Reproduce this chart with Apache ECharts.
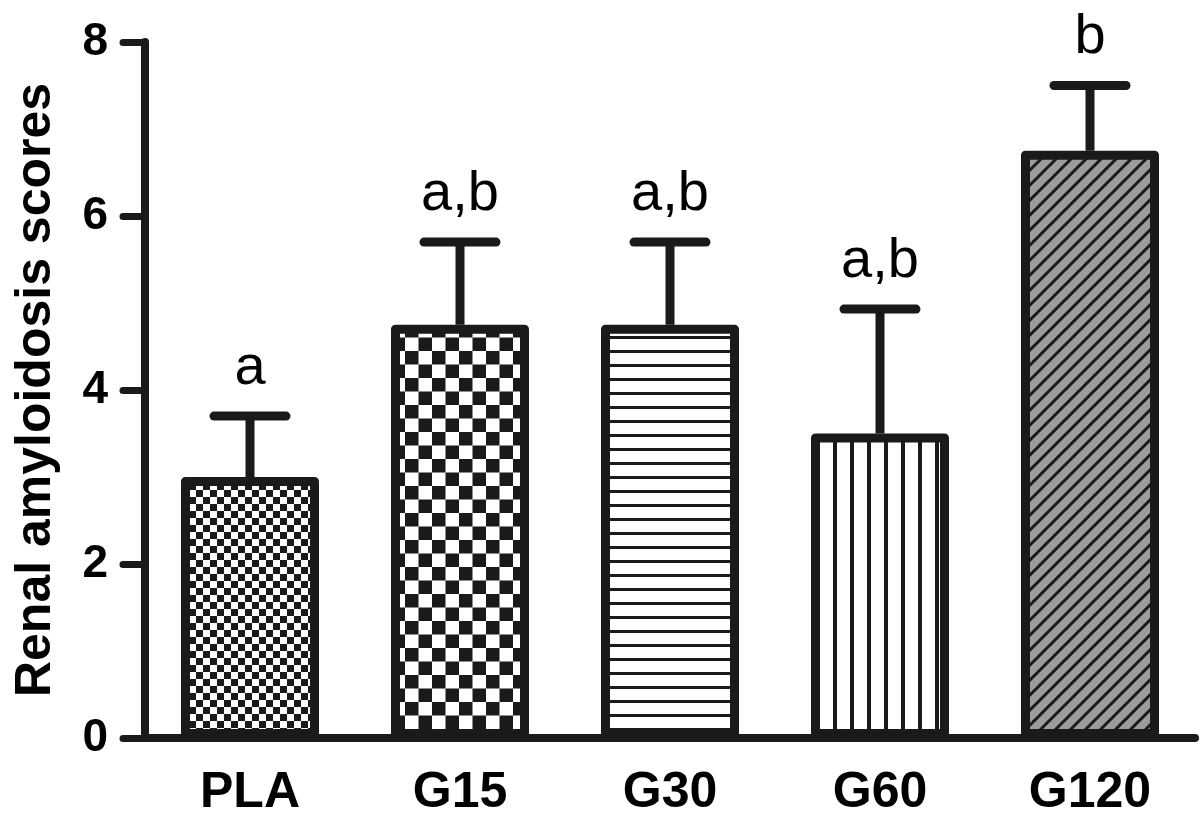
<!DOCTYPE html>
<html>
<head>
<meta charset="utf-8">
<script src="https://cdn.jsdelivr.net/npm/echarts@6/dist/echarts.min.js"></script>
<style>
html,body{margin:0;padding:0;background:#fff;}
#chart{width:1200px;height:818px;}
</style>
</head>
<body>
<div id="chart"></div>
<script>
// ---- data ----
var categories = ['PLA', 'G15', 'G30', 'G60', 'G120'];
var means = [3.0, 4.75, 4.75, 3.5, 6.75];
var sems = [0.7, 0.95, 0.95, 1.43, 0.75];
var letters = ['a', 'a,b', 'a,b', 'a,b', 'b'];
var yTicks = [0, 2, 4, 6, 8];
var yTitle = 'Renal amyloidosis scores';

var INK = '#1a1a1a';
var FONT = '"Liberation Sans", Arial, Helvetica, sans-serif';

function makeCanvas(w, h, draw) {
  var c = document.createElement('canvas');
  c.width = w; c.height = h;
  var ctx = c.getContext('2d');
  draw(ctx, w, h);
  return c;
}
// fine checkerboard
var patPLA = makeCanvas(14, 14, function (ctx, w, h) {
  ctx.fillStyle = '#fff'; ctx.fillRect(0, 0, w, h);
  ctx.fillStyle = INK; ctx.fillRect(0, 0, 7, 7); ctx.fillRect(7, 7, 7, 7);
});
// coarse checkerboard
var patG15 = makeCanvas(27, 27, function (ctx, w, h) {
  ctx.fillStyle = '#fff'; ctx.fillRect(0, 0, w, h);
  ctx.fillStyle = INK; ctx.fillRect(0, 0, 13.5, 13.5); ctx.fillRect(13.5, 13.5, 13.5, 13.5);
});
// horizontal lines
var patG30 = makeCanvas(10, 14, function (ctx, w, h) {
  ctx.fillStyle = '#fff'; ctx.fillRect(0, 0, w, h);
  ctx.fillStyle = INK; ctx.fillRect(0, 0, w, 3);
});
// vertical lines
var patG60 = makeCanvas(17, 10, function (ctx, w, h) {
  ctx.fillStyle = '#fff'; ctx.fillRect(0, 0, w, h);
  ctx.fillStyle = INK; ctx.fillRect(0, 0, 4, h);
});
// gray with diagonal lines
var patG120 = makeCanvas(15, 15, function (ctx, w, h) {
  ctx.fillStyle = '#9c9c9c'; ctx.fillRect(0, 0, w, h);
  ctx.strokeStyle = INK; ctx.lineWidth = 3;
  ctx.beginPath();
  ctx.moveTo(-2, h + 2); ctx.lineTo(w + 2, -2);
  ctx.moveTo(-2 - w, h + 2); ctx.lineTo(2, -2);
  ctx.moveTo(w - 2, h + 2); ctx.lineTo(2 * w + 2, -2);
  ctx.stroke();
});
var patterns = [patPLA, patG15, patG30, patG60, patG120];

var barData = means.map(function (v, i) {
  return {
    value: v,
    itemStyle: { color: { image: patterns[i], repeat: 'repeat' } }
  };
});
var errData = means.map(function (v, i) {
  return [i, v, v + sems[i]];
});

var chart = echarts.init(document.getElementById('chart'));
chart.setOption({
  animation: false,
  backgroundColor: '#fff',
  grid: { left: 145, right: 5, top: 42, bottom: 78, containLabel: false },
  xAxis: {
    type: 'category',
    data: categories,
    axisLine: { lineStyle: { color: INK, width: 8, cap: 'round' } },
    axisTick: { alignWithLabel: true, length: 22, lineStyle: { color: INK, width: 7, cap: 'round' } },
    axisLabel: { color: '#000', fontFamily: FONT, fontWeight: 'bold', fontSize: 50, margin: 30 }
  },
  yAxis: {
    type: 'value',
    min: 0, max: 8, interval: 2,
    name: yTitle,
    nameLocation: 'middle',
    nameGap: 84,
    nameTextStyle: { color: '#000', fontFamily: FONT, fontWeight: 'bold', fontSize: 50 },
    splitLine: { show: false },
    axisLine: { show: true, lineStyle: { color: INK, width: 8, cap: 'round' } },
    axisTick: { show: true, length: 22, lineStyle: { color: INK, width: 7, cap: 'round' } },
    axisLabel: {
      color: '#000', fontFamily: FONT, fontWeight: 'bold', fontSize: 46, margin: 37,
      formatter: function (v) { return yTicks.indexOf(v) >= 0 ? String(v) : ''; }
    }
  },
  series: [
    {
      type: 'custom',
      z: 1,
      data: errData,
      renderItem: function (params, api) {
        var i = api.value(0);
        var base = api.coord([i, api.value(1)]);
        var top = api.coord([i, api.value(2)]);
        var x = base[0];
        var st = { stroke: INK, lineWidth: 9, lineCap: 'round' };
        return {
          type: 'group',
          children: [
            { type: 'line', shape: { x1: x, y1: base[1], x2: x, y2: top[1] }, style: { stroke: INK, lineWidth: 9 } },
            { type: 'line', shape: { x1: x - 36, y1: top[1], x2: x + 36, y2: top[1] }, style: st },
            {
              type: 'text',
              style: {
                x: x, y: top[1] - 48, text: letters[params.dataIndex],
                fill: '#000', font: '56px ' + FONT, align: 'center', verticalAlign: 'middle'
              }
            }
          ]
        };
      }
    },
    {
      type: 'bar',
      z: 2,
      data: barData,
      barWidth: 138,
      itemStyle: { borderColor: INK, borderWidth: 9, borderJoin: 'round' }
    }
  ]
});
</script>
</body>
</html>
